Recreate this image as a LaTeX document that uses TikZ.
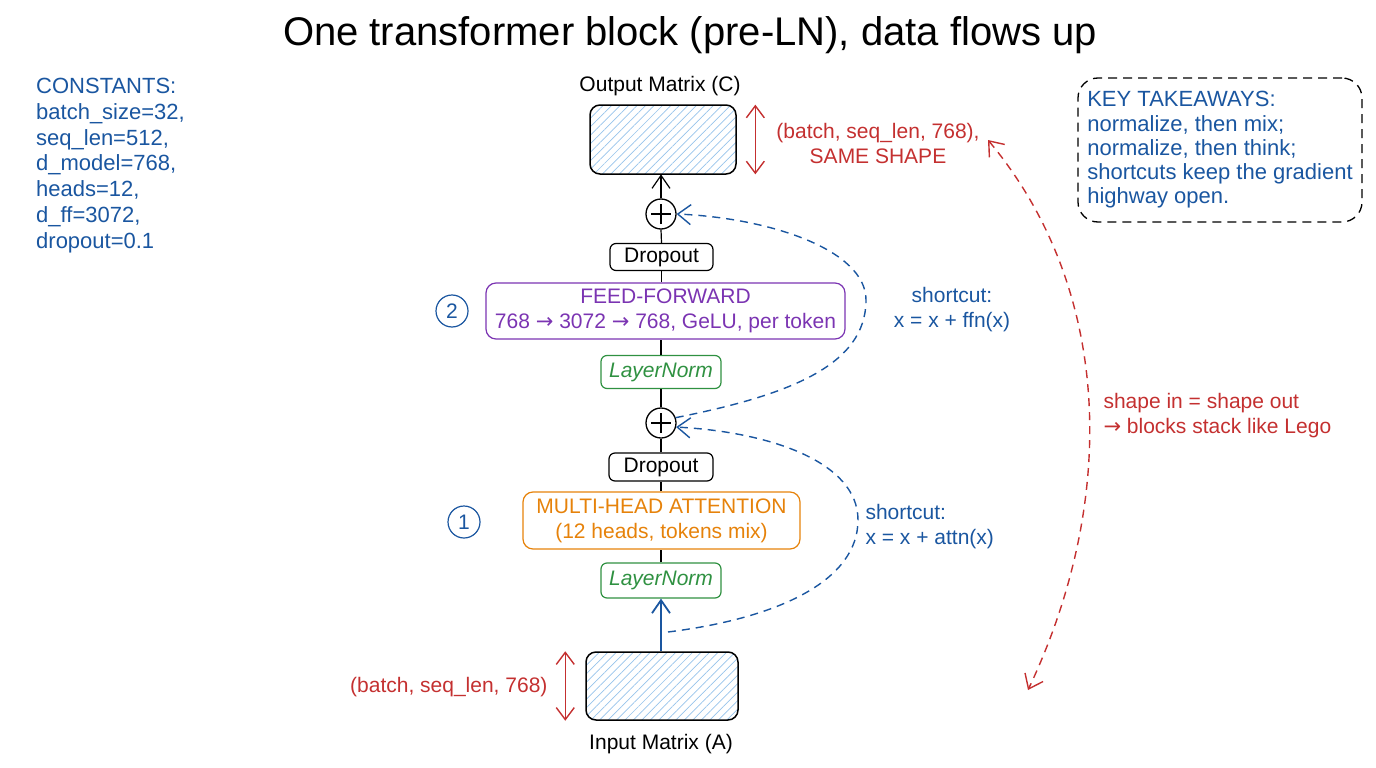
\documentclass[tikz,border=0pt]{standalone}
\usepackage{fontspec}
\setmainfont{Liberation Sans}
\newfontfamily\symfont{DejaVu Sans}
\usetikzlibrary{arrows.meta,patterns.meta,calc}
\definecolor{cblue}{RGB}{26,86,160}
\definecolor{cred}{RGB}{196,48,48}
\definecolor{cpurple}{RGB}{123,52,178}
\definecolor{corange}{RGB}{230,130,10}
\definecolor{cgreen}{RGB}{47,145,65}
\definecolor{chatch}{RGB}{150,195,235}
\newcommand{\rarr}{{\symfont →}}
\begin{document}
\begin{tikzpicture}[x=1pt,y=-1pt,
  txt/.style={font=\fontsize{21}{25}\selectfont},
  box/.style={draw, line width=1.2pt, rounded corners=6pt, inner sep=0pt, align=center, txt},
  matbox/.style={draw, line width=1.5pt, rounded corners=10pt, inner sep=0pt,
     pattern={Lines[angle=45,distance=6pt,line width=0.7pt]}, pattern color=chatch},
  plusnode/.style={circle, draw, line width=1.3pt, minimum size=30pt, inner sep=0pt,
     path picture={\draw[line width=1.3pt]
       ([xshift=-10pt]path picture bounding box.center) -- ([xshift=10pt]path picture bounding box.center)
       ([yshift=-10pt]path picture bounding box.center) -- ([yshift=10pt]path picture bounding box.center);}},
  numnode/.style={circle, draw=cblue, text=cblue, line width=1.2pt, minimum size=32pt, inner sep=0pt, txt},
  conn/.style={line width=1.2pt},
  bigtip/.style={Straight Barb[length=13pt,width=20pt]},
  sc/.style={cblue, line width=1.4pt, dash pattern=on 8pt off 6pt, -{Straight Barb[length=13pt,width=20pt]}},
]
\useasboundingbox (0,0) rectangle (1376,768);

% title
\node (title) at (690,35) {\fontsize{40}{44}\selectfont One transformer block (pre-LN), data flows up};

% constants
\node (const) [anchor=north west, align=left, inner sep=0pt, text=cblue,
  font=\fontsize{22}{25.8}\selectfont] at (36,78)
  {CONSTANTS:\\batch\_size=32,\\seq\_len=512,\\d\_model=768,\\heads=12,\\d\_ff=3072,\\dropout=0.1};

% output
\node (outlab) [txt] at (660,86) {Output Matrix (C)};
\node (out) [matbox, minimum width=146pt, minimum height=69pt] at (663,139.5) {};
\draw[cred, line width=1.4pt, {Straight Barb[length=12pt,width=18pt]}-{Straight Barb[length=12pt,width=18pt]}]
  ([xshift=19pt]out.north east) -- ([xshift=19pt]out.south east);
\node (outdim) [txt, text=cred, align=center] at (878,143) {(batch, seq\_len, 768),\\SAME SHAPE};

% stack
\node (p1) [plusnode] at (661,214) {};
\node (do1) [box, minimum width=103pt, minimum height=27pt] at (661.5,257) {Dropout};
\node (ff) [box, draw=cpurple, text=cpurple, rounded corners=10pt, minimum width=359pt, minimum height=56pt] at (665.5,311) {FEED-FORWARD\\768 \rarr\ 3072 \rarr\ 768, GeLU, per token};
\node (c2) [numnode] at (452,311) {2};
\node (ln2) [box, draw=cgreen, text=cgreen, minimum width=120pt, minimum height=33pt] at (661,372) {\itshape LayerNorm};
\node (p2) [plusnode] at (661,423) {};
\node (do2) [box, minimum width=104pt, minimum height=28pt] at (661,467) {Dropout};
\node (mha) [box, draw=corange, text=corange, rounded corners=10pt, minimum width=277pt, minimum height=57pt] at (661.5,520.5) {MULTI-HEAD ATTENTION\\(12 heads, tokens mix)};
\node (c1) [numnode] at (464,522) {1};
\node (ln1) [box, draw=cgreen, text=cgreen, minimum width=120pt, minimum height=35pt] at (661,580.5) {\itshape LayerNorm};

% input
\node (in) [matbox, minimum width=152pt, minimum height=68pt] at (662,686) {};
\node (inlab) [txt] at (661,744) {Input Matrix (A)};
\draw[cred, line width=1.4pt, {Straight Barb[length=12pt,width=18pt]}-{Straight Barb[length=12pt,width=18pt]}]
  ([xshift=-20pt]in.north west) -- ([xshift=-20pt]in.south west);
\node (indim) [txt, text=cred, anchor=east] at (551,687) {(batch, seq\_len, 768)};

% main connectors
\draw[cblue, line width=1.8pt, -{Straight Barb[length=13pt,width=18pt]}] (in.north -| ln1.south) -- (ln1.south);
\draw[conn] (ln1.north) -- (mha.south -| ln1.north);
\draw[conn] (mha.north -| do2.south) -- (do2.south);
\draw[conn] (do2.north) -- (p2.south);
\draw[conn] (p2.north) -- (ln2.south);
\draw[conn] (ln2.north) -- (ff.south -| ln2.north);
\draw[conn] (ff.north -| do1.south) -- (do1.south);
\draw[conn] (do1.north) -- (p1.south);
\draw[conn, -{Straight Barb[length=13pt,width=18pt]}] (p1.north) -- (out.south -| p1.north);

% shortcuts
\coordinate (s1) at (668,632);
\draw[sc] (s1) .. controls (780,618) and (858,580) .. (858,520)
  .. controls (858,462) and (770,432) .. (p2.-15);
\draw[sc] (p2.20) .. controls (790,395) and (866,365) .. (866,300)
  .. controls (866,250) and (770,218) .. (p1.east);
\node (sc2) [txt, text=cblue, align=center] at (952,310) {shortcut:\\x = x + ffn(x)};
\node (sc1) [txt, text=cblue, align=left, anchor=west] at (862,527) {shortcut:\\x = x + attn(x)};

% lego arc
\coordinate (rtop) at (988,140);
\coordinate (rbot) at (1028,690);
\draw[cred, line width=1.4pt, dash pattern=on 8pt off 6pt,
  {Straight Barb[length=13pt,width=20pt]}-{Straight Barb[length=13pt,width=20pt]}]
  (rtop) .. controls (1113,290) and (1118,500) .. (rbot);
\node (lego) [txt, text=cred, align=left, anchor=west] at (1100,416) {shape in = shape out\\\rarr\ blocks stack like Lego};

% takeaways
\node (kt) [draw, line width=1.3pt, dash pattern=on 9pt off 6pt, rounded corners=20pt,
  minimum width=284pt, minimum height=144pt, inner xsep=9pt, align=left, text=cblue,
  font=\fontsize{22}{24.3}\selectfont] at (1220,150)
  {KEY TAKEAWAYS:\\normalize, then mix;\\normalize, then think;\\shortcuts keep the gradient\\highway open.};
\end{tikzpicture}
\end{document}
